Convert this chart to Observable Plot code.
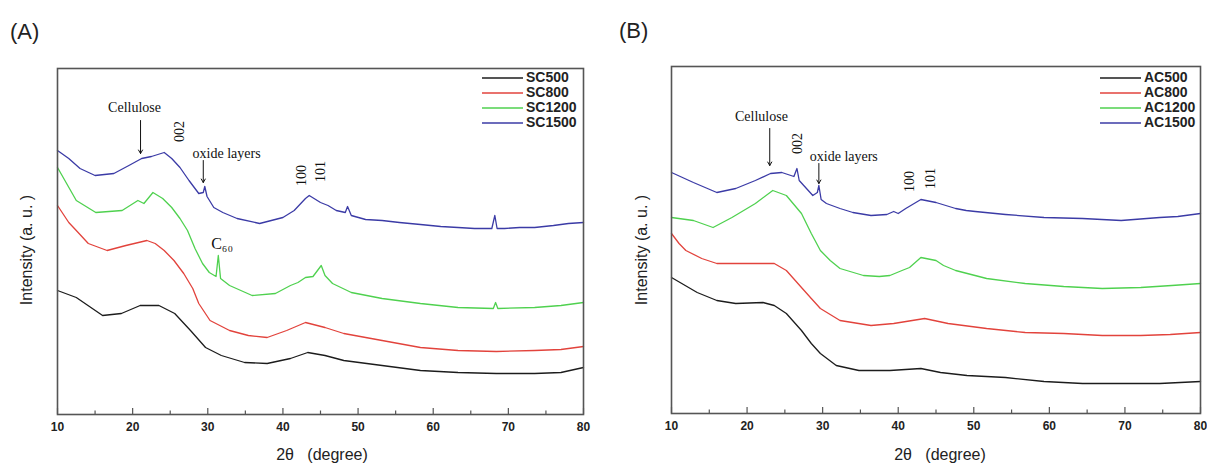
<!DOCTYPE html>
<html><head><meta charset="utf-8">
<script src="https://cdn.jsdelivr.net/npm/d3@7"></script>
<script src="https://cdn.jsdelivr.net/npm/@observablehq/plot@0.6"></script>
<style>
body{margin:0;background:#fff;}
#wrap{position:relative;width:1207px;height:465px;background:#fff;overflow:hidden;font-family:"Liberation Sans",Arial,sans-serif;color:#222;}
.abs{position:absolute;white-space:pre;}
.leg{position:absolute;font-weight:bold;font-size:14px;line-height:15px;color:#222;}
.leg div{display:flex;align-items:center;height:15px;}
.leg svg{display:block;margin-right:3px;}
</style></head>
<body><div id="wrap">
<div id="pA" class="abs" style="left:0;top:0"></div>
<div id="pB" class="abs" style="left:600px;top:0"></div>
<div class="abs" style="left:10px;top:19px;font-size:22px">(A)</div>
<div class="abs" style="left:619px;top:18px;font-size:22px">(B)</div>
<div class="abs" style="left:27px;top:250px;font-size:16px;transform:translate(-50%,-50%) rotate(-90deg)">Intensity (a. u. )</div>
<div class="abs" style="left:642px;top:250px;font-size:16px;transform:translate(-50%,-50%) rotate(-90deg)">Intensity (a. u. )</div>
<div class="abs" style="left:322px;top:455px;font-size:16px;transform:translate(-50%,-50%)">2θ   (degree)</div>
<div class="abs" style="left:940px;top:455px;font-size:16px;transform:translate(-50%,-50%)">2θ   (degree)</div>
<div id="legA" class="leg" style="left:482px;top:70px"></div>
<div id="legB" class="leg" style="left:1100px;top:70px"></div>
</div>
<script>
// ---------- Data (intensity in arbitrary units) ----------
const majorTicks = [10, 20, 30, 40, 50, 60, 70, 80];
const minorTicks = [15, 25, 35, 45, 55, 65, 75];

const namesA = ["SC500", "SC800", "SC1200", "SC1500"];
const namesB = ["AC500", "AC800", "AC1200", "AC1500"];
const colors = ["#1c1c1c", "#e2433c", "#4fd14f", "#3b3ba6"];

// Panel A
const sc500_x = [10, 12.5, 16, 18.5, 21, 23.5, 25.6, 27.7, 29.7, 31.8, 34.9, 37.9, 41, 43.3, 45.6, 48.1, 53.2, 58.3, 63.3, 68.4, 73.5, 77, 80];
const sc500_y = [124, 117, 99, 101, 109, 109, 101, 84, 67, 59, 52, 51, 56, 62, 59, 54, 49, 44, 42, 41, 41, 42, 47];
const sc800_x = [10, 11.5, 12.5, 14.1, 16.6, 19.1, 21.9, 23, 24.2, 25.5, 26.8, 28, 28.8, 30.3, 32.9, 35.4, 37.9, 40.5, 43, 45.6, 48.1, 53.2, 58.3, 63.3, 68.4, 73.5, 77, 80];
const sc800_y = [209, 192, 184, 171, 164, 169, 174, 171, 164, 154, 141, 126, 111, 94, 84, 79, 77, 84, 92, 87, 81, 74, 67, 64, 63, 64, 65, 68];
const sc1200_x = [10, 12.5, 15.1, 18.6, 20.7, 21.5, 22.7, 24, 25.2, 26.3, 27.3, 28.3, 29.3, 30.2, 31.1, 31.4, 31.7, 32.9, 35.9, 39, 41, 42, 43, 44, 45.1, 45.6, 46.6, 49.1, 53.2, 58.3, 63.3, 68, 68.3, 68.6, 73.5, 77, 80];
const sc1200_y = [247, 214, 202, 204, 214, 211, 222, 216, 207, 196, 184, 166, 151, 142, 138, 159, 136, 129, 119, 121, 129, 132, 137, 138, 149, 139, 131, 122, 116, 111, 107, 106, 112, 106, 107, 109, 112];
const sc1500_x = [10, 11.5, 13, 15, 17.5, 19.5, 21.2, 22.5, 24.2, 25.2, 26.3, 27.5, 28.8, 29.4, 29.6, 29.9, 30.8, 32, 33.9, 36.9, 40, 41.5, 43, 43.5, 45, 46, 47.1, 48.3, 48.6, 49.1, 51, 53.2, 55.5, 58.3, 61, 63.3, 65.5, 67.8, 68.2, 68.5, 69.5, 71.5, 73.5, 76, 78, 80];
const sc1500_y = [264, 256, 246, 239, 241, 249, 256, 258, 262, 256, 247, 234, 221, 222, 228, 218, 207, 202, 196, 191, 197, 204, 216, 219, 212, 209, 204, 202, 208, 199, 195, 194, 192, 190, 188, 187, 186, 186, 199, 186, 186, 187, 187, 189, 191, 192];

// Panel B
const ac500_x = [10, 13.4, 16, 18.5, 22.1, 23.6, 25.2, 27.2, 28.5, 29.7, 31.8, 34.8, 38.9, 43, 45.6, 49.1, 54.2, 59.3, 64.4, 69.5, 74.6, 80];
const ac500_y = [136, 121, 113, 110, 111, 108, 100, 83, 70, 60, 48, 43, 43, 45, 41, 38, 36, 32, 30, 30, 30, 32];
const ac800_x = [10, 11, 11.9, 14, 16, 18.5, 21.1, 23.6, 25.2, 27.2, 28.5, 29.7, 32.3, 36.4, 39.4, 43.5, 46.6, 51.7, 56.8, 61.9, 67, 72.1, 76, 80];
const ac800_y = [180, 170, 163, 155, 150, 150, 150, 150, 143, 126, 115, 105, 93, 88, 90, 95, 90, 85, 81, 80, 78, 78, 79, 81];
const ac1200_x = [10, 12.9, 15.5, 18, 21.1, 23.4, 25.2, 27.2, 28.5, 29.7, 31, 32.3, 35.4, 37.5, 38.9, 40.5, 41.5, 43, 45, 46, 47.6, 51.7, 56.8, 61.9, 67, 72.1, 76.2, 80];
const ac1200_y = [196, 193, 186, 196, 210, 223, 218, 200, 180, 163, 153, 145, 138, 137, 138, 143, 146, 156, 153, 148, 143, 135, 130, 127, 125, 126, 128, 130];
const ac1500_x = [10, 12.9, 16, 18.5, 21.1, 23.1, 24.6, 26.2, 26.6, 26.9, 27.5, 28.7, 29.3, 29.5, 29.8, 30.5, 32.3, 34, 36.4, 38.5, 39.4, 40, 41, 43, 45, 47.6, 49, 50.2, 54.2, 59.3, 64.4, 69.5, 74.6, 77, 80];
const ac1500_y = [241, 231, 221, 225, 233, 240, 241, 237, 245, 233, 228, 218, 221, 228, 214, 210, 205, 201, 198, 199, 202, 200, 205, 214, 211, 205, 203, 202, 199, 196, 195, 193, 196, 197, 200];

// Annotations (2θ, intensity)
const textA = [
  {x: 20.25, y: 307, t: "Cellulose", r: 0, s: 14},
  {x: 26.2, y: 283, t: "002", r: -90, s: 14},
  {x: 32.5, y: 261, t: "oxide layers", r: 0, s: 14},
  {x: 42.5, y: 239, t: "100", r: -90, s: 14},
  {x: 45.0, y: 243, t: "101", r: -90, s: 14},
  {x: 31.9, y: 171, t: "C₆₀", r: 0, s: 16}
];
const arrowsA = [
  {x: 21.05, y1: 294, y2: 261},
  {x: 29.4, y1: 254, y2: 232}
];
const textB = [
  {x: 21.9, y: 297, t: "Cellulose", r: 0, s: 14},
  {x: 26.7, y: 270, t: "002", r: -90, s: 14},
  {x: 32.8, y: 257, t: "oxide layers", r: 0, s: 14},
  {x: 41.5, y: 232, t: "100", r: -90, s: 14},
  {x: 44.3, y: 235, t: "101", r: -90, s: 14}
];
const arrowsB = [
  {x: 23.0, y1: 285, y2: 248},
  {x: 29.5, y1: 250, y2: 230}
];

// ---------- Build ----------
function zip(name, xs, ys) { return xs.map((x, i) => ({name, x, y: ys[i]})); }
const seriesA = [
  zip("SC500", sc500_x, sc500_y), zip("SC800", sc800_x, sc800_y),
  zip("SC1200", sc1200_x, sc1200_y), zip("SC1500", sc1500_x, sc1500_y)
];
const seriesB = [
  zip("AC500", ac500_x, ac500_y), zip("AC800", ac800_x, ac800_y),
  zip("AC1200", ac1200_x, ac1200_y), zip("AC1500", ac1500_x, ac1500_y)
];

function panel(series, texts, arrows, opts) {
  const innerH = 465 - opts.mt - opts.mb;
  return Plot.plot({
    width: opts.width, height: 465,
    marginTop: opts.mt, marginRight: opts.mr, marginBottom: opts.mb, marginLeft: opts.ml,
    style: {fontFamily: "'Liberation Sans', Arial, sans-serif", background: "transparent", overflow: "visible"},
    x: {domain: [10, 80]},
    y: {domain: opts.ydom, axis: null},
    marks: [
      ...series.map((s, i) => Plot.line(s, {x: "x", y: "y", stroke: colors[i], strokeWidth: 1.3})),
      Plot.text(texts, {x: "x", y: "y", text: "t", rotate: "r", fontSize: "s", fontFamily: "'Liberation Serif', 'Times New Roman', serif", fill: "#111"}),
      Plot.arrow(arrows, {x1: "x", y1: "y1", x2: "x", y2: "y2", stroke: "#111", strokeWidth: 1, headLength: 6}),
      Plot.ruleX(majorTicks, {x: d => d, insetTop: innerH - 6, stroke: "#555", strokeWidth: 1.2}),
      Plot.ruleX(minorTicks, {x: d => d, insetTop: innerH - 3.5, stroke: "#555", strokeWidth: 1.2}),
      Plot.frame({stroke: "#555", strokeWidth: 1.6}),
      Plot.axisX({ticks: majorTicks, tickSize: 0, tickPadding: 8, fontSize: 12, fontWeight: "bold", fill: "#222", label: null})
    ]
  });
}

document.getElementById("pA").appendChild(panel(seriesA, textA, arrowsA, {width: 600, mt: 68, mr: 17, mb: 51, ml: 57, ydom: [0, 346]}));
document.getElementById("pB").appendChild(panel(seriesB, textB, arrowsB, {width: 607, mt: 66, mr: 7, mb: 52, ml: 71, ydom: [0, 347]}));

function legend(el, names) {
  names.forEach((n, i) => {
    const row = document.createElement("div");
    row.innerHTML = `<svg width="41" height="4"><line x1="0" x2="41" y1="2" y2="2" stroke="${colors[i]}" stroke-width="1.3"/></svg><span>${n}</span>`;
    el.appendChild(row);
  });
}
legend(document.getElementById("legA"), namesA);
legend(document.getElementById("legB"), namesB);
</script>
</body></html>
